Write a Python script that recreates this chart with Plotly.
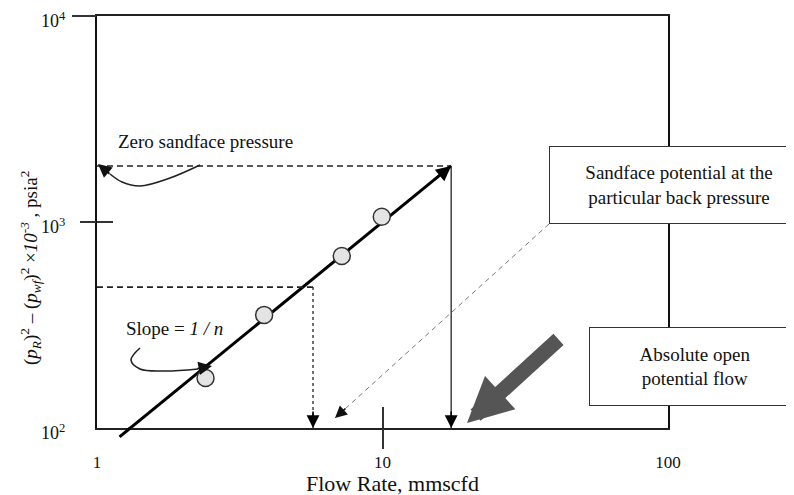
import numpy as np
import plotly.graph_objects as go

# ---------------- data ----------------
flow_rate = [2.40, 3.85, 7.20, 9.94]          # mmscfd
delta_p2 = [175, 354, 684, 1061]              # (pR^2 - pwf^2) x 1e-3, psia^2
fit_q = [1.185, 17.4]                         # deliverability line ends
fit_dp2 = [89.4, 1871]
aof_q = 17.4                                  # absolute open flow
zero_pwf_dp2 = 1871                           # zero sandface pressure level
bp_q = 5.71                                   # flow at particular back pressure
bp_dp2 = 483
x_tickvals = [1, 10, 100]
x_ticktext = ["1", "10", "100"]
y_tickvals = [100, 1000, 10000]
y_ticktext = ["10<sup>2</sup>", "10<sup>3</sup>", "10<sup>4</sup>"]
x_range = [1, 100]
y_range = [100, 10000]

# ---------------- layout geometry ----------------
W, H = 794, 495
BODY = 8                      # default page margin around the figure
PL, PR, PT, PB = 97, 668, 16, 428   # plot area in page pixels
FONT = "Liberation Serif"
lx = [np.log10(v) for v in x_range]
ly = [np.log10(v) for v in y_range]


def p2d(xp, yp):
    """page pixel -> data value (for decoration geometry)"""
    xv = 10 ** (lx[0] + (xp - PL) / (PR - PL) * (lx[1] - lx[0]))
    yv = 10 ** (ly[0] + (PB - yp) / (PB - PT) * (ly[1] - ly[0]))
    return xv, yv


def p2paper(xp, yp):
    return (xp - PL) / (PR - PL), (PB - yp) / (PB - PT)


fig = go.Figure()

# fitted deliverability line
fig.add_trace(go.Scatter(x=fit_q, y=fit_dp2, mode="lines",
                         line=dict(color="black", width=3),
                         hoverinfo="skip", showlegend=False))

# zero sandface pressure dashed + vertical to AOF
fig.add_trace(go.Scatter(x=[x_range[0], aof_q], y=[zero_pwf_dp2, zero_pwf_dp2],
                         mode="lines", line=dict(color="#222", width=1.6, dash="6px,4px"),
                         hoverinfo="skip", showlegend=False))
fig.add_trace(go.Scatter(x=[aof_q, aof_q], y=[zero_pwf_dp2, y_range[0]],
                         mode="lines", line=dict(color="#333", width=1.4),
                         hoverinfo="skip", showlegend=False))

# particular back pressure
fig.add_trace(go.Scatter(x=[x_range[0], bp_q], y=[bp_dp2, bp_dp2],
                         mode="lines", line=dict(color="#222", width=1.6, dash="6px,4px"),
                         hoverinfo="skip", showlegend=False))
fig.add_trace(go.Scatter(x=[bp_q, bp_q], y=[bp_dp2, y_range[0]],
                         mode="lines", line=dict(color="#333", width=1.4, dash="3px,3px"),
                         hoverinfo="skip", showlegend=False))

# thin grey dashed pointer from the "Sandface potential" box
box1_corner = p2d(549, 224)
bp_tip = p2d(335, 418)
fig.add_trace(go.Scatter(x=[box1_corner[0], bp_tip[0]], y=[box1_corner[1], bp_tip[1]],
                         mode="lines", line=dict(color="#777", width=1, dash="5px,4px"),
                         hoverinfo="skip", showlegend=False))

# curved pointers
zero_curve_px = [(200, 165), (170, 178), (140, 186), (122, 182), (110, 174)]
zc = [p2d(*p) for p in zero_curve_px]
fig.add_trace(go.Scatter(x=[c[0] for c in zc], y=[c[1] for c in zc], mode="lines",
                         line=dict(color="#222", width=1.6, shape="spline"),
                         hoverinfo="skip", showlegend=False))
slope_curve_px = [(140, 348), (131, 360), (140, 369), (165, 371), (198, 369)]
sc = [p2d(*p) for p in slope_curve_px]
fig.add_trace(go.Scatter(x=[c[0] for c in sc], y=[c[1] for c in sc], mode="lines",
                         line=dict(color="#222", width=1.6, shape="spline"),
                         hoverinfo="skip", showlegend=False))

# data points
fig.add_trace(go.Scatter(x=flow_rate, y=delta_p2, mode="markers",
                         marker=dict(size=17, color="#e4e4e4",
                                     line=dict(color="#333", width=1.5)),
                         hoverinfo="skip", showlegend=False))

# dummy traces for overlay tick axes
for xa, ya in [("x2", "y"), ("x3", "y"), ("x", "y2"), ("x", "y3")]:
    fig.add_trace(go.Scatter(x=[None], y=[None], xaxis=xa, yaxis=ya,
                             showlegend=False, hoverinfo="skip"))

ann = []

# arrowhead at top end of fit line
lfq = np.log10(fit_q)
lfd = np.log10(fit_dp2)
dxp = (lfq[1] - lfq[0]) / (lx[1] - lx[0]) * (PR - PL)
dyp = (lfd[1] - lfd[0]) / (ly[1] - ly[0]) * (PB - PT)
nrm = np.hypot(dxp, dyp)
ann.append(dict(x=lfq[1], y=lfd[1], xref="x", yref="y", text="", showarrow=True,
                ax=-dxp / nrm * 24, ay=dyp / nrm * 24, arrowhead=2, arrowsize=1.2,
                arrowwidth=2.5, arrowcolor="black", standoff=0))
# extension of fit line below the x axis
slope = (lfd[1] - lfd[0]) / (lfq[1] - lfq[0])
lq_at_min = lfq[0] + (ly[0] - lfd[0]) / slope
ann.append(dict(x=lq_at_min, y=ly[0], xref="x", yref="y", text="", showarrow=True,
                ax=lfq[0], ay=lfd[0], axref="x", ayref="y", arrowhead=0,
                arrowwidth=3, arrowcolor="black", standoff=0))

# down arrows onto x axis
for q in [aof_q, bp_q]:
    ann.append(dict(x=np.log10(q), y=ly[0], xref="x", yref="y", text="", showarrow=True,
                    ax=0, ay=-18, arrowhead=2, arrowsize=1.6, arrowwidth=1.6,
                    arrowcolor="black", standoff=0))

# arrowhead of grey pointer
ddx, ddy = 549 - 335, 224 - 418
dn = np.hypot(ddx, ddy)
ann.append(dict(x=np.log10(bp_tip[0]), y=np.log10(bp_tip[1]), xref="x", yref="y", text="",
                showarrow=True, ax=ddx / dn * 16, ay=ddy / dn * 16, arrowhead=2,
                arrowsize=1.6, arrowwidth=1.5, arrowcolor="#111", standoff=0))

# arrowheads of curved pointers
zt = p2d(98, 164)
ann.append(dict(x=np.log10(zt[0]), y=np.log10(zt[1]), xref="x", yref="y", text="",
                showarrow=True, ax=13, ay=11, arrowhead=2, arrowsize=1.5,
                arrowwidth=1.8, arrowcolor="#111", standoff=0))
st = p2d(212, 366)
ann.append(dict(x=np.log10(st[0]), y=np.log10(st[1]), xref="x", yref="y", text="",
                showarrow=True, ax=-16, ay=3, arrowhead=2, arrowsize=1.5,
                arrowwidth=1.8, arrowcolor="#111", standoff=0))

# big hatched arrow towards AOF
bt = p2d(467, 423)
ann.append(dict(x=np.log10(bt[0]), y=np.log10(bt[1]), xref="x", yref="y", text="",
                showarrow=True, ax=93, ay=-85, arrowhead=2, arrowsize=0.6,
                arrowwidth=15, arrowcolor="#555", standoff=0))

# text labels
def txt(xp, yp, s, size=19, **kw):
    px_, py_ = p2paper(xp, yp)
    d = dict(x=px_, y=py_, xref="paper", yref="paper", text=s, showarrow=False,
             font=dict(family=FONT, size=size, color="#111"),
             xanchor="center", yanchor="middle")
    d.update(kw)
    ann.append(d)

txt(205, 141, "Zero sandface pressure")
txt(174, 328, "Slope = <i>1 / n</i>")
txt(679, 185, "Sandface potential at the<br>particular back pressure",
    bgcolor="white", bordercolor="#333", borderwidth=1, borderpad=4,
    width=250, height=68, align="center")
txt(695, 366, "Absolute open<br>potential flow",
    bgcolor="white", bordercolor="#333", borderwidth=1, borderpad=4,
    width=202, height=69, align="center")
txt(393, 483, "Flow Rate, mmscfd", size=22)
txt(30, 268, "(<i>p<sub>R</sub></i>)<sup>2</sup> \u2013 (<i>p<sub>wf</sub></i>)<sup>2</sup>"
             " \u00d7<i>10<sup>-3</sup></i> , psia<sup>2</sup>", size=19, textangle=-90)

axis_common = dict(type="log", showgrid=False, zeroline=False, automargin=False)
fig.update_layout(
    template="none",
    width=W, height=H,
    margin=dict(l=PL - BODY, r=W + BODY - PR, t=PT - BODY, b=H + BODY - PB, pad=0),
    paper_bgcolor="white", plot_bgcolor="white",
    showlegend=False,
    xaxis=dict(**axis_common, range=lx, tickvals=x_tickvals, ticktext=x_ticktext,
               ticks="", showline=True, mirror=True, linecolor="#222", linewidth=1.6,
               ticklabeloverflow="allow",
               tickfont=dict(family=FONT, size=17, color="#111"), ticklabelstandoff=18),
    xaxis2=dict(**axis_common, range=lx, overlaying="x", anchor="y", side="bottom",
                tickvals=[10], ticks="outside", ticklen=20, tickwidth=1.5,
                tickcolor="#333", showticklabels=False, showline=False),
    xaxis3=dict(**axis_common, range=lx, overlaying="x", anchor="y", side="bottom",
                tickvals=[10], ticks="inside", ticklen=21, tickwidth=1.5,
                tickcolor="#333", showticklabels=False, showline=False),
    yaxis=dict(**axis_common, range=ly, tickvals=y_tickvals, ticktext=y_ticktext,
               ticks="", showline=True, mirror=True, linecolor="#111", linewidth=2,
               ticklabeloverflow="allow", ticklabelshift=5,
               tickfont=dict(family=FONT, size=18, color="#111"), ticklabelstandoff=26),
    yaxis2=dict(**axis_common, range=ly, overlaying="y", anchor="x", side="left",
                tickvals=[1000, 10000], ticks="outside", ticklen=16, tickwidth=1.5,
                tickcolor="#333", showticklabels=False, showline=False,
                minor=dict(tickvals=[10000], ticks="outside", ticklen=24,
                           tickcolor="#333", tickwidth=1.5)),
    yaxis3=dict(**axis_common, range=ly, overlaying="y", anchor="x", side="left",
                tickvals=[1000], ticks="inside", ticklen=16, tickwidth=1.5,
                tickcolor="#333", showticklabels=False, showline=False),
    annotations=ann,
)

fig.write_html("out.html")
